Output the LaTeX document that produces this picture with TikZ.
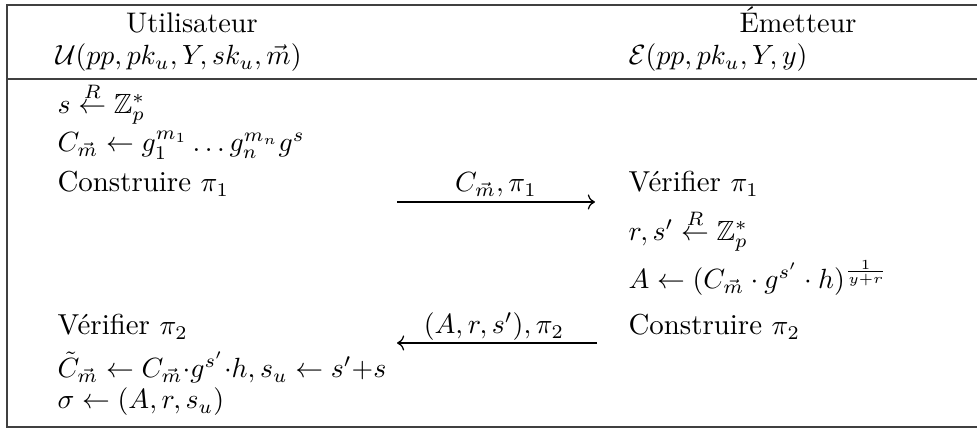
\documentclass[tikz,border=0pt]{standalone}
\usepackage{amsmath,amssymb}
\usetikzlibrary{arrows.meta, positioning}

\begin{document}
\begin{tikzpicture}[x=0.36pt, y=-0.36pt,
    txt/.style={inner sep=0pt, anchor=base west},
    word/.style={txt, font=\fontsize{10.4}{12}\selectfont},
    head/.style={inner sep=0pt, anchor=base, font=\fontsize{10.2}{12}\selectfont},
    msg/.style={->, line width=0.45pt},
    frame/.style={line width=0.6pt, black!75}]
    \useasboundingbox (0,0) rectangle (977,429);

    % Frame
    \draw[frame] (977,5) -- (7,5) -- (7,427) -- (977,427);
    \draw[frame] (7,79) -- (977,79);

    % Headers
    \node[head] (user) at (192,33) {Utilisateur};
    \node[txt] (userin) at (55,65) {$\mathcal{U}(pp,pk_u,Y,sk_u,\vec{m})$};
    \node[head] (issuer) at (798,33) {\'Emetteur};
    \node[txt] (issuerin) at (628,65) {$\mathcal{E}(pp,pk_u,Y,y)$};

    % User side
    \node[txt] (u1) at (57,114) {$s \stackrel{R}{\leftarrow} \mathbb{Z}_p^*$};
    \node[txt] (u2) at (57,152) {$C_{\vec{m}} \leftarrow g_1^{m_1}\dots g_n^{m_n}g^s$};
    \node[word] (u3) at (57,192) {Construire $\pi_1$};
    \node[word] (u4) at (57,335) {V\'erifier $\pi_2$};
    \node[txt] (u5) at (57,378) {$\tilde{C}_{\vec{m}} \leftarrow C_{\vec{m}}{\cdot}g^{s'}{\cdot}h, s_u \leftarrow s'{+}s$};
    \node[txt] (u6) at (57,409) {$\sigma \leftarrow (A,r,s_u)$};

    % Issuer side
    \node[word] (e1) at (628,192) {V\'erifier $\pi_1$};
    \node[txt] (e2) at (628,241) {$r,s' \stackrel{R}{\leftarrow} \mathbb{Z}_p^*$};
    \node[txt] (e3) at (628,289) {$A \leftarrow (C_{\vec{m}}\cdot g^{s'}\cdot h)^{\frac{1}{y+r}}$};
    \node[word] (e4) at (628,335) {Construire $\pi_2$};

    % Messages
    \coordinate (a1s) at (397,202);
    \coordinate (a1e) at (595,202);
    \coordinate (a2s) at (597,343);
    \coordinate (a2e) at (397,343);
    \draw[msg] (a1s) -- (a1e);
    \node[head] (m1) at (496,192) {$C_{\vec{m}},\pi_1$};
    \draw[msg] (a2s) -- (a2e);
    \node[head] (m2) at (494,334) {$(A,r,s'),\pi_2$};
\end{tikzpicture}
\end{document}
